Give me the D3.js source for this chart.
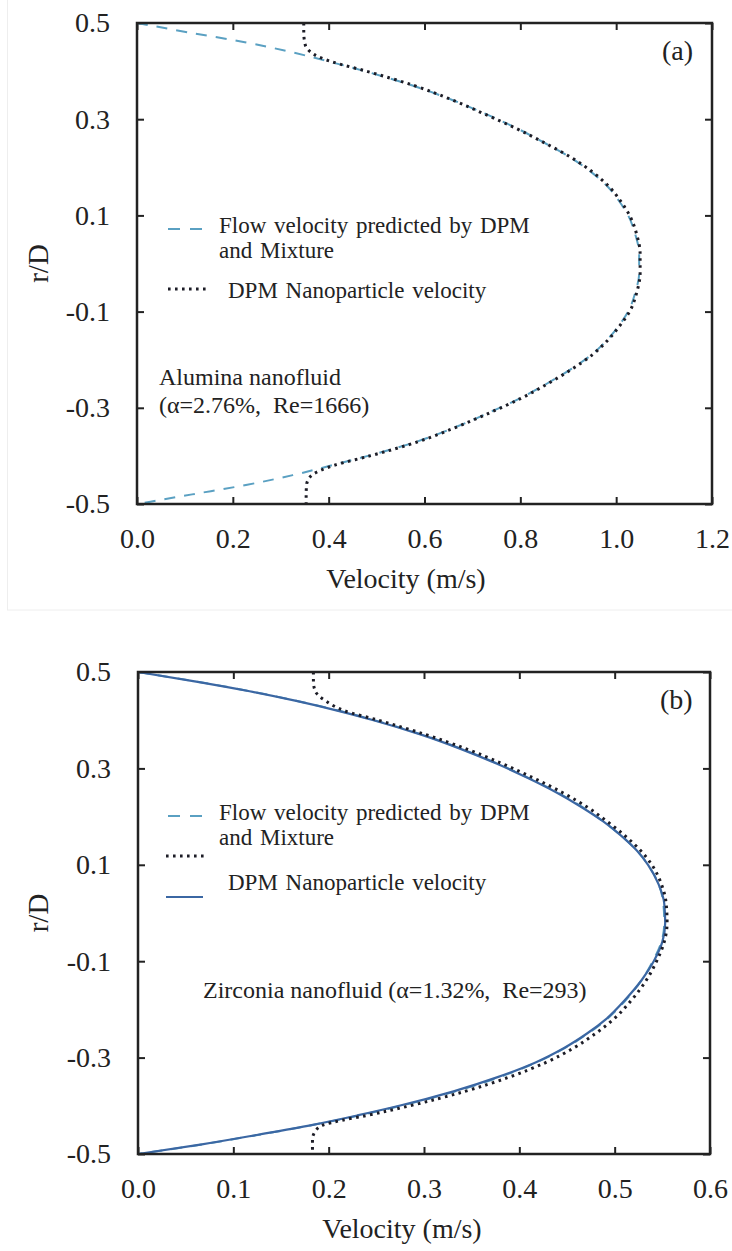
<!DOCTYPE html>
<html>
<head>
<meta charset="utf-8">
<script src="https://cdn.jsdelivr.net/npm/d3@7"></script>
<style>
  html, body { margin: 0; padding: 0; background: #fff; }
  svg text { font-family: "Liberation Serif", "Times New Roman", serif; fill: #222; white-space: pre; }
</style>
</head>
<body>
<svg id="fig" width="732" height="1251"></svg>
<script>
// ---------- Panel (a): alumina nanofluid ----------
const rFlowA = [0.50, 0.48, 0.46, 0.44, 0.42, 0.40, 0.37, 0.34, 0.31, 0.28, 0.25, 0.22, 0.19, 0.16, 0.13, 0.10, 0.06, 0.02,
               -0.02, -0.06, -0.10, -0.13, -0.16, -0.19, -0.22, -0.25, -0.28, -0.31, -0.34, -0.37, -0.40, -0.42, -0.44, -0.46, -0.48, -0.50];
const flowA  = [0.000, 0.110, 0.225, 0.320, 0.400, 0.475, 0.575, 0.658, 0.730, 0.795, 0.852, 0.905, 0.948, 0.982, 1.006, 1.025, 1.040, 1.048,
                1.048, 1.040, 1.025, 1.005, 0.980, 0.948, 0.905, 0.855, 0.800, 0.735, 0.665, 0.585, 0.482, 0.405, 0.325, 0.230, 0.115, 0.000];

const rPartA = [0.50, 0.48, 0.46, 0.45, 0.44, 0.43, 0.42, 0.40, 0.37, 0.34, 0.31, 0.28, 0.25, 0.22, 0.19, 0.16, 0.13, 0.10, 0.06, 0.02,
               -0.02, -0.06, -0.10, -0.13, -0.16, -0.19, -0.22, -0.25, -0.28, -0.31, -0.34, -0.37, -0.40, -0.42, -0.43, -0.44, -0.45, -0.46, -0.48, -0.50];
const partA  = [0.348, 0.348, 0.350, 0.353, 0.362, 0.378, 0.405, 0.478, 0.578, 0.658, 0.727, 0.793, 0.852, 0.907, 0.951, 0.985, 1.009, 1.028, 1.043, 1.050,
                1.050, 1.043, 1.028, 1.007, 0.982, 0.950, 0.907, 0.857, 0.802, 0.737, 0.667, 0.588, 0.486, 0.410, 0.383, 0.365, 0.357, 0.354, 0.353, 0.353];

// ---------- Panel (b): zirconia nanofluid ----------
const rFlowB = [0.50, 0.48, 0.46, 0.44, 0.42, 0.40, 0.37, 0.34, 0.31, 0.28, 0.25, 0.22, 0.19, 0.16, 0.13, 0.10, 0.06, 0.02,
               -0.02, -0.06, -0.10, -0.14, -0.18, -0.22, -0.25, -0.28, -0.31, -0.34, -0.37, -0.40, -0.42, -0.44, -0.46, -0.48, -0.50];
const flowB  = [0.000, 0.062, 0.118, 0.167, 0.210, 0.248, 0.298, 0.340, 0.377, 0.410, 0.440, 0.466, 0.488, 0.507, 0.523, 0.535, 0.546, 0.551,
                0.552, 0.549, 0.540, 0.528, 0.512, 0.492, 0.472, 0.448, 0.418, 0.380, 0.333, 0.276, 0.232, 0.183, 0.127, 0.068, 0.000];
const solidB = [0.000, 0.061, 0.117, 0.166, 0.209, 0.247, 0.297, 0.339, 0.376, 0.409, 0.439, 0.465, 0.488, 0.507, 0.523, 0.535, 0.546, 0.552,
                0.553, 0.550, 0.541, 0.528, 0.511, 0.491, 0.471, 0.447, 0.417, 0.378, 0.331, 0.274, 0.230, 0.182, 0.126, 0.067, 0.000];

const rPartB = [0.50, 0.48, 0.46, 0.45, 0.44, 0.43, 0.42, 0.40, 0.37, 0.34, 0.31, 0.28, 0.25, 0.22, 0.19, 0.16, 0.13, 0.10, 0.06, 0.02,
               -0.02, -0.06, -0.10, -0.14, -0.18, -0.22, -0.25, -0.28, -0.31, -0.34, -0.37, -0.40, -0.42, -0.43, -0.44, -0.45, -0.47, -0.50];
const partB  = [0.184, 0.184, 0.186, 0.190, 0.197, 0.205, 0.216, 0.252, 0.302, 0.345, 0.382, 0.415, 0.445, 0.471, 0.492, 0.511, 0.527, 0.539, 0.549, 0.554,
                0.555, 0.552, 0.544, 0.533, 0.518, 0.499, 0.480, 0.457, 0.428, 0.390, 0.343, 0.285, 0.240, 0.214, 0.194, 0.187, 0.183, 0.183];

// ---------- Axes ticks ----------
const xTicksA = [0, 0.2, 0.4, 0.6, 0.8, 1.0, 1.2];
const xTicksB = [0, 0.1, 0.2, 0.3, 0.4, 0.5, 0.6];
const yTicks  = [0.5, 0.3, 0.1, -0.1, -0.3, -0.5];

const legendLabels = ["Flow velocity predicted by DPM", "and Mixture", "DPM Nanoparticle velocity"];

const COL_DASH = "#5aa0c2";
const COL_DOT  = "#1c1c26";
const COL_SOLID = "#3b67a3";

const svg = d3.select("#fig");

// faint frame of the upper figure
svg.append("rect").attr("x", 7.5).attr("y", -2).attr("width", 740).attr("height", 612)
  .attr("fill", "none").attr("stroke", "#eeeeee").attr("stroke-width", 1);

const fmt = d => d3.format(".1f")(d).replace("\u2212", "-");

function panel(cfg) {
  const { left, right, top, bottom, xMax, xTicks } = cfg;
  const x = d3.scaleLinear().domain([0, xMax]).range([left, right]);
  const y = d3.scaleLinear().domain([-0.5, 0.5]).range([bottom, top]);
  const g = svg.append("g");

  const styleAxis = sel => {
    sel.select(".domain").remove();
    sel.selectAll(".tick line").attr("stroke", "#222").attr("stroke-width", 2);
    sel.selectAll(".tick text").style("font-size", "28px").attr("fill", "#222");
  };

  g.append("g").attr("transform", `translate(0,${bottom})`)
    .call(d3.axisBottom(x).tickValues(xTicks).tickFormat(fmt).tickSize(-7).tickPadding(24))
    .call(styleAxis);
  g.append("g").attr("transform", `translate(0,${top})`)
    .call(d3.axisTop(x).tickValues(xTicks).tickFormat("").tickSize(-7))
    .call(styleAxis);
  g.append("g").attr("transform", `translate(${left},0)`)
    .call(d3.axisLeft(y).tickValues(yTicks).tickFormat(fmt).tickSize(-7).tickPadding(27))
    .call(styleAxis);
  g.append("g").attr("transform", `translate(${right},0)`)
    .call(d3.axisRight(y).tickValues(yTicks).tickFormat("").tickSize(-7))
    .call(styleAxis);

  const line = d3.line().x(d => x(d[0])).y(d => y(d[1])).curve(d3.curveMonotoneY);
  const zipv = (r, v) => r.map((ri, i) => [v[i], ri]);

  cfg.series.forEach(s => {
    g.append("path").datum(zipv(s.r, s.v))
      .attr("d", line).attr("fill", "none")
      .attr("stroke", s.color).attr("stroke-width", s.width)
      .attr("stroke-dasharray", s.dash || null);
  });

  g.append("rect").attr("x", left).attr("y", top).attr("width", right - left).attr("height", bottom - top)
    .attr("fill", "none").attr("stroke", "#222").attr("stroke-width", 2.5);

  // axis titles
  g.append("text").attr("x", cfg.titleX).attr("y", bottom + 84).attr("text-anchor", "middle")
    .style("font-size", "28px").text("Velocity (m/s)");
  g.append("text").attr("transform", `translate(48,${(top + bottom) / 2}) rotate(-90)`)
    .attr("text-anchor", "middle").style("font-size", "29px").text("r/D");

  // panel tag
  g.append("text").attr("x", right - 50).attr("y", top + 37).style("font-size", "28px").text(cfg.tag);

  // legend
  cfg.legend.forEach(l => {
    if (l.sample) {
      g.append("line").attr("x1", l.sample.x1).attr("x2", l.sample.x2).attr("y1", l.sample.y).attr("y2", l.sample.y)
        .attr("stroke", l.sample.color).attr("stroke-width", l.sample.width).attr("stroke-dasharray", l.sample.dash || null);
    }
    if (l.text) {
      g.append("text").attr("x", l.x).attr("y", l.y).style("font-size", "23px")
        .style("word-spacing", "2px").text(l.text);
    }
  });
  cfg.notes.forEach(n => {
    g.append("text").attr("x", n.x).attr("y", n.y).style("font-size", "24px").text(n.text);
  });
}

panel({
  left: 137, right: 712, top: 23, bottom: 504, xMax: 1.2, xTicks: xTicksA, titleX: 406, tag: "(a)",
  series: [
    { r: rFlowA, v: flowA, color: COL_DASH, width: 2, dash: "11 9" },
    { r: rPartA, v: partA, color: COL_DOT, width: 3, dash: "2.6 4.4" }
  ],
  legend: [
    { sample: { x1: 168, x2: 202, y: 229, color: COL_DASH, width: 2, dash: "12 10" }, text: legendLabels[0], x: 219, y: 233 },
    { text: legendLabels[1], x: 219, y: 258 },
    { sample: { x1: 168, x2: 208, y: 289, color: COL_DOT, width: 3, dash: "2.6 4.4" }, text: legendLabels[2], x: 228, y: 298 }
  ],
  notes: [
    { text: "Alumina nanofluid", x: 159, y: 385 },
    { text: "(α=2.76%,  Re=1666)", x: 159, y: 413 }
  ]
});

panel({
  left: 138, right: 710, top: 672, bottom: 1154, xMax: 0.6, xTicks: xTicksB, titleX: 402, tag: "(b)",
  series: [
    { r: rFlowB, v: flowB, color: COL_DASH, width: 2, dash: "11 9" },
    { r: rFlowB, v: solidB, color: COL_SOLID, width: 2.2 },
    { r: rPartB, v: partB, color: COL_DOT, width: 3, dash: "2.6 4.4" }
  ],
  legend: [
    { sample: { x1: 168, x2: 202, y: 816, color: COL_DASH, width: 2, dash: "12 10" }, text: legendLabels[0], x: 219, y: 820 },
    { text: legendLabels[1], x: 219, y: 845 },
    { sample: { x1: 166, x2: 206, y: 856, color: COL_DOT, width: 3, dash: "2.6 4.4" } },
    { text: legendLabels[2], x: 228, y: 890 },
    { sample: { x1: 166, x2: 203, y: 897, color: COL_SOLID, width: 2.2 } }
  ],
  notes: [
    { text: "Zirconia nanofluid (α=1.32%,  Re=293)", x: 203, y: 998 }
  ]
});
</script>
</body>
</html>
